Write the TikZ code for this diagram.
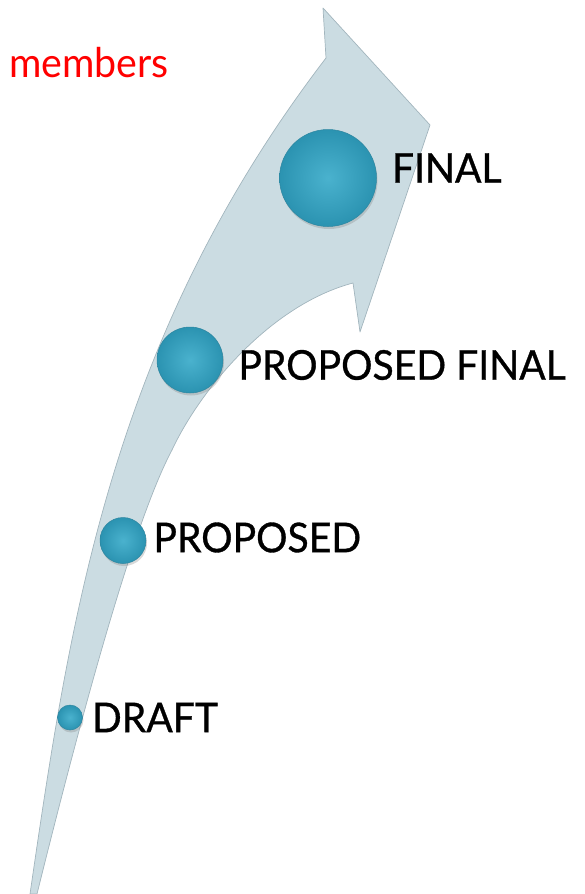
\documentclass[tikz,border=0pt]{standalone}
\usepackage{fontspec}
\setmainfont{Lato}
\newfontfamily\stagefont[FakeStretch=0.955, FakeBold=0.8]{Lato}
\newfontfamily\memberfont[FakeStretch=0.96]{Lato}
\usetikzlibrary{positioning, shadows}

\definecolor{shaftfill}{HTML}{CBDCE2}
\definecolor{shaftline}{HTML}{A2B5BD}
\definecolor{ballinner}{HTML}{4AB2CE}
\definecolor{ballouter}{HTML}{2B93B1}
\definecolor{ballline}{HTML}{2D86A0}

\tikzset{
	ball/.style={circle, inner sep=0pt, draw=ballline, line width=0.5pt,
		inner color=ballinner, outer color=ballouter,
		drop shadow={shadow xshift=1pt, shadow yshift=-2.5pt, opacity=0.3}},
	stage/.style={inner sep=0pt, text=black, font=\stagefont\fontsize{41}{41}\selectfont},
	redlabel/.style={inner sep=0pt, text=red, font=\memberfont\fontsize{41}{41}\selectfont},
}

\begin{document}
\begin{tikzpicture}[x=1pt, y=-1pt]
	\useasboundingbox (0,0) rectangle (585,894);
	
	%curved arrow
	\filldraw[fill=shaftfill, draw=shaftline, line width=0.7pt, line join=round]
		(323,8) coordinate (tip) -- (430,125) coordinate (head) -- (360,332) coordinate (barb) -- (353,283)
		.. controls (270,305) and (200,390) .. (172,450)
		.. controls (140,510) and (95,660) .. (37,894)
		-- (30,894)
		.. controls (70,620) and (110,340) .. (326,58)
		-- cycle;
	
	%outside label
	\node[redlabel, anchor=base west] (members) at (9,77) {members};
	
	%circles
	\node[ball, minimum size=97pt] (final)    at (328,178)   {};
	\node[ball, minimum size=66pt] (propfin)  at (190,360)   {};
	\node[ball, minimum size=46pt] (proposed) at (123,540.5) {};
	\node[ball, minimum size=25pt] (draft)    at (70,717.5)  {};
	
	%stage labels
	\node[stage, right=15pt of final, yshift=10pt]    (finaltxt)    {FINAL};
	\node[stage, right=15pt of propfin, yshift=-5pt]  (propfintxt)  {PROPOSED FINAL};
	\node[stage, right=7pt of proposed, yshift=3pt]   (proposedtxt) {PROPOSED};
	\node[stage, right=9pt of draft]                  (drafttxt)    {DRAFT};
\end{tikzpicture}
\end{document}
